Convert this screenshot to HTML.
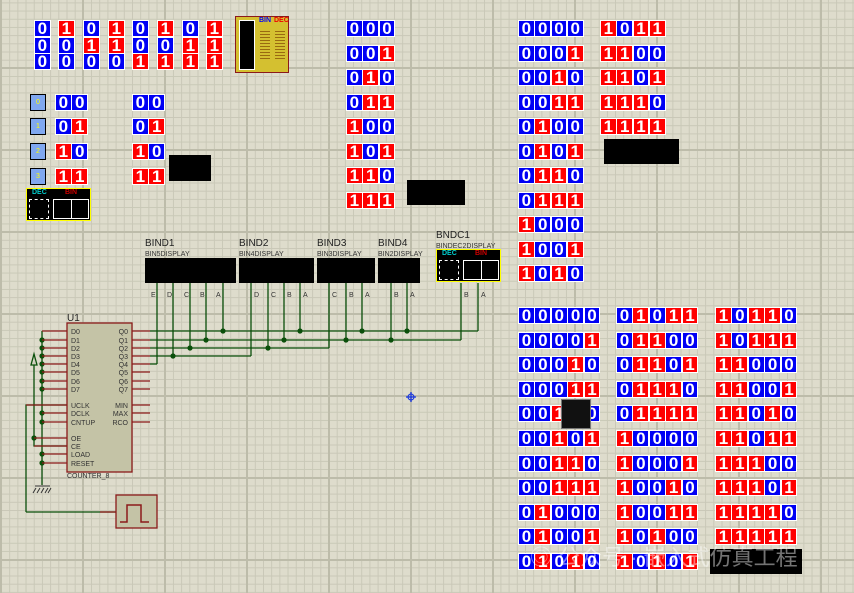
<!DOCTYPE html>
<html><head><meta charset="utf-8">
<style>
html,body{margin:0;padding:0}
body{width:854px;height:593px;overflow:hidden;position:relative;font-family:"Liberation Sans",sans-serif;
background-color:#dedccc;
background-image:
 linear-gradient(to right,#bdbcaa 0,#bdbcaa 2px,transparent 2px),
 linear-gradient(to bottom,#bdbcaa 0,#bdbcaa 2px,transparent 2px),
 linear-gradient(to right,#c9c8b7 0,#c9c8b7 1px,transparent 1px),
 linear-gradient(to bottom,#c9c8b7 0,#c9c8b7 1px,transparent 1px);
background-size:82px 82px,82px 82px,8.2px 8.2px,8.2px 8.2px;
background-position:0px 0px,0px 67px,1px 0px,0px 2.4px;}
.a{position:absolute}
.c{position:absolute;box-sizing:border-box;border:1px solid #fff;color:#fff;font-weight:bold;font-size:17px;line-height:15px;text-align:center}
.b{background:#0000f4}.r{background:#ff0000}
.blk{position:absolute;background:#000}
</style></head><body>
<div id="root"></div>
<svg class="a" style="left:0;top:0" width="854" height="593">
<g stroke="#0a4f0a" stroke-width="1.3" fill="none">
<path d="M157 283V364M173 283V356M190 283V348M206 283V340M223 283V331"/>
<path d="M251 283V356M268 283V348M284 283V340M300 283V331"/>
<path d="M329 283V348M346 283V340M362 283V331M391 283V340M407 283V331M461 283V340M478 283V331"/>
<path d="M150 331H478M150 340H461M150 348H329M150 356H251M150 364H157"/>
<path d="M42 331V485M34 365V446H67M26 512V405H67M26 512H116"/>
</g>
<g fill="#0a4f0a">
<circle cx="223" cy="331" r="2.6"/><circle cx="300" cy="331" r="2.6"/><circle cx="362" cy="331" r="2.6"/><circle cx="407" cy="331" r="2.6"/>
<circle cx="206" cy="340" r="2.6"/><circle cx="284" cy="340" r="2.6"/><circle cx="346" cy="340" r="2.6"/><circle cx="391" cy="340" r="2.6"/>
<circle cx="190" cy="348" r="2.6"/><circle cx="268" cy="348" r="2.6"/><circle cx="173" cy="356" r="2.6"/>
<circle cx="42" cy="340" r="2.6"/><circle cx="42" cy="348" r="2.6"/><circle cx="42" cy="356" r="2.6"/><circle cx="42" cy="364" r="2.6"/><circle cx="42" cy="372" r="2.6"/><circle cx="42" cy="381" r="2.6"/><circle cx="42" cy="389" r="2.6"/><circle cx="42" cy="413" r="2.6"/><circle cx="42" cy="422" r="2.6"/><circle cx="42" cy="454" r="2.6"/><circle cx="42" cy="463" r="2.6"/><circle cx="34" cy="438" r="2.6"/>
</g>
<g stroke="#8b1a1a" stroke-width="1.3">
<path d="M42 331H67M42 340H67M42 348H67M42 356H67M42 364H67M42 372H67M42 381H67M42 389H67M26 405H67M42 413H67M42 422H67M34 438H67M34 446H67M42 454H67M42 463H67"/>
<path d="M132 331H150M132 340H150M132 348H150M132 356H150M132 364H150M132 372H150M132 381H150M132 389H150M132 405H150M132 413H150M132 422H150"/>
<path d="M100 512H116"/>
</g>
<rect x="67" y="323" width="65" height="149" fill="#c4c3a6" stroke="#8b1a1a" stroke-width="1.3"/>
<rect x="116" y="495" width="41" height="33" fill="#c4c3a6" stroke="#8b1a1a" stroke-width="1.3"/>
<path d="M120 522H127V505H141V522H149" stroke="#8b1a1a" stroke-width="1.5" fill="none"/>
<path d="M34 365L31 365L34 354L37 365Z" stroke="#0a4f0a" fill="none" stroke-width="1.3"/>
<path d="M35 486H50M36 488l-3 5M40 488l-3 5M44 488l-3 5M48 488l-3 5M51 488l-3 5" stroke="#333" stroke-width="1"/>
<path d="M411 392V402M406 397H416" stroke="#1030e0" stroke-width="1.2"/><circle cx="411" cy="397" r="3" fill="none" stroke="#1030e0"/>
<g font-family="Liberation Sans" font-size="7" fill="#333">
<text x="71" y="334">D0</text><text x="71" y="343">D1</text><text x="71" y="351">D2</text><text x="71" y="359">D3</text><text x="71" y="367">D4</text><text x="71" y="375">D5</text><text x="71" y="384">D6</text><text x="71" y="392">D7</text>
<text x="71" y="408">UCLK</text><text x="71" y="416">DCLK</text><text x="71" y="425">CNTUP</text><text x="71" y="441">OE</text><text x="71" y="449">CE</text><text x="71" y="457">LOAD</text><text x="71" y="466">RESET</text>
<g text-anchor="end"><text x="128" y="334">Q0</text><text x="128" y="343">Q1</text><text x="128" y="351">Q2</text><text x="128" y="359">Q3</text><text x="128" y="367">Q4</text><text x="128" y="375">Q5</text><text x="128" y="384">Q6</text><text x="128" y="392">Q7</text><text x="128" y="408">MIN</text><text x="128" y="416">MAX</text><text x="128" y="425">RCO</text></g>
<text x="67" y="478">COUNTER_8</text>
<text x="151" y="297">E</text><text x="167" y="297">D</text><text x="184" y="297">C</text><text x="200" y="297">B</text><text x="216" y="297">A</text>
<text x="254" y="297">D</text><text x="271" y="297">C</text><text x="287" y="297">B</text><text x="303" y="297">A</text>
<text x="332" y="297">C</text><text x="349" y="297">B</text><text x="365" y="297">A</text><text x="394" y="297">B</text><text x="410" y="297">A</text><text x="464" y="297">B</text><text x="481" y="297">A</text>
<text x="145" y="256">BIN5DISPLAY</text><text x="239" y="256">BIN4DISPLAY</text><text x="317" y="256">BIN3DISPLAY</text><text x="378" y="256">BIN2DISPLAY</text><text x="436" y="248">BINDEC2DISPLAY</text>
</g>
<g font-family="Liberation Sans" font-size="10" fill="#222">
<text x="67" y="321">U1</text><text x="145" y="246">BIND1</text><text x="239" y="246">BIND2</text><text x="317" y="246">BIND3</text><text x="378" y="246">BIND4</text><text x="436" y="238">BNDC1</text>
</g>
</svg>
<div class="blk" style="left:145px;top:258px;width:91px;height:25px"></div>
<div class="blk" style="left:239px;top:258px;width:75px;height:25px"></div>
<div class="blk" style="left:317px;top:258px;width:58px;height:25px"></div>
<div class="blk" style="left:378px;top:258px;width:42px;height:25px"></div>
<div class="blk" style="left:169px;top:155px;width:42px;height:26px"></div>
<div class="blk" style="left:407px;top:180px;width:58px;height:25px"></div>
<div class="blk" style="left:604px;top:139px;width:75px;height:25px"></div>
<div class="blk" style="left:710px;top:549px;width:92px;height:25px"></div>
<div class="a" style="left:436px;top:249px;width:65px;height:33px;background:#000;border:1px solid #ff0;box-sizing:border-box">
 <span class="a" style="left:5px;top:0;font-size:7px;color:#0cc;font-weight:bold">DEC</span>
 <span class="a" style="left:38px;top:0;font-size:7px;color:#c00;font-weight:bold">BIN</span>
 <div class="a" style="left:2px;top:10px;width:20px;height:20px;border:1px dashed #fff;box-sizing:border-box"></div>
 <div class="a" style="left:26px;top:10px;width:36px;height:20px;border:1px solid #fff;box-sizing:border-box"></div>
 <div class="a" style="left:44px;top:10px;width:1px;height:20px;background:#fff"></div>
</div>
<div class="a" style="left:26px;top:188px;width:65px;height:33px;background:#000;border:1px solid #ff0;box-sizing:border-box">
 <span class="a" style="left:5px;top:0;font-size:7px;color:#0cc;font-weight:bold">DEC</span>
 <span class="a" style="left:38px;top:0;font-size:7px;color:#c00;font-weight:bold">BIN</span>
 <div class="a" style="left:2px;top:10px;width:20px;height:20px;border:1px dashed #fff;box-sizing:border-box"></div>
 <div class="a" style="left:26px;top:10px;width:36px;height:20px;border:1px solid #fff;box-sizing:border-box"></div>
 <div class="a" style="left:44px;top:10px;width:1px;height:20px;background:#fff"></div>
</div>
<div class="a" style="left:235px;top:16px;width:54px;height:57px;background:#d4c030;border:1px solid #8b1a1a;box-sizing:border-box">
 <div class="a" style="left:3px;top:3px;width:16px;height:50px;background:#000;border:1px solid #fff;box-sizing:border-box"></div>
 <span class="a" style="left:23px;top:0;font-size:7px;color:#00f;font-weight:bold">BIN</span>
 <span class="a" style="left:38px;top:0;font-size:7px;color:#e00;font-weight:bold">DEC</span>
 <div class="a" style="left:24px;top:14px;width:10px;height:30px;background:repeating-linear-gradient(#9a6a10 0 1px,transparent 1px 3px)"></div>
 <div class="a" style="left:39px;top:14px;width:10px;height:30px;background:repeating-linear-gradient(#9a6a10 0 1px,transparent 1px 3px)"></div>
</div>
<div class="a" style="left:561px;top:399px;width:30px;height:30px;background:#111;border:1px solid #777;box-sizing:border-box"></div>
<div class="a" style="left:530px;top:540px;font-size:22px;color:rgba(255,255,255,0.45);font-family:'Liberation Sans','Noto Sans CJK SC',sans-serif;white-space:nowrap">◎ 公众号 · 嵌入式仿真工程</div>
<script>
var R=document.getElementById('root'),h='';
function tile(x,y,bits,w,hh){w=w||16.3;hh=hh||17;for(var i=0;i<bits.length;i++){h+='<div class="c '+(bits[i]=='1'?'r':'b')+'" style="left:'+(x+i*w)+'px;top:'+y+'px;width:'+(w+0.5)+'px;height:'+hh+'px">'+bits[i]+'</div>';}}
function bin(n,k){var s=n.toString(2);while(s.length<k)s='0'+s;return s;}
var xs=[34,58,83,108,132,157,182,206];
for(var i=0;i<8;i++){tile(xs[i],20,''+(i&1));tile(xs[i],37,''+((i>>1)&1));tile(xs[i],53,''+((i>>2)&1));}
var ys=[94,118,143,168];
for(var i=0;i<4;i++){h+='<div class="a" style="left:30px;top:'+ys[i]+'px;width:16px;height:17px;background:#80a8f0;border:1px solid #000;box-sizing:border-box;color:#ff0;font-size:7px;text-align:center;line-height:15px">'+i+'</div>';tile(55,ys[i],bin(i,2));tile(132,ys[i],bin(i,2));}
for(var i=0;i<8;i++)tile(346,20+i*24.5,bin(i,3));
for(var i=0;i<11;i++)tile(518,20+i*24.5,bin(i,4));
for(var i=0;i<5;i++)tile(600,20+i*24.5,bin(11+i,4));
for(var i=0;i<11;i++)tile(518,307+i*24.6,bin(i,5),16.4);
for(var i=0;i<11;i++)tile(616,307+i*24.6,bin(11+i,5),16.4);
for(var i=0;i<10;i++)tile(715,307+i*24.6,bin(22+i,5),16.4);
R.innerHTML=h;
</script>
</body></html>
